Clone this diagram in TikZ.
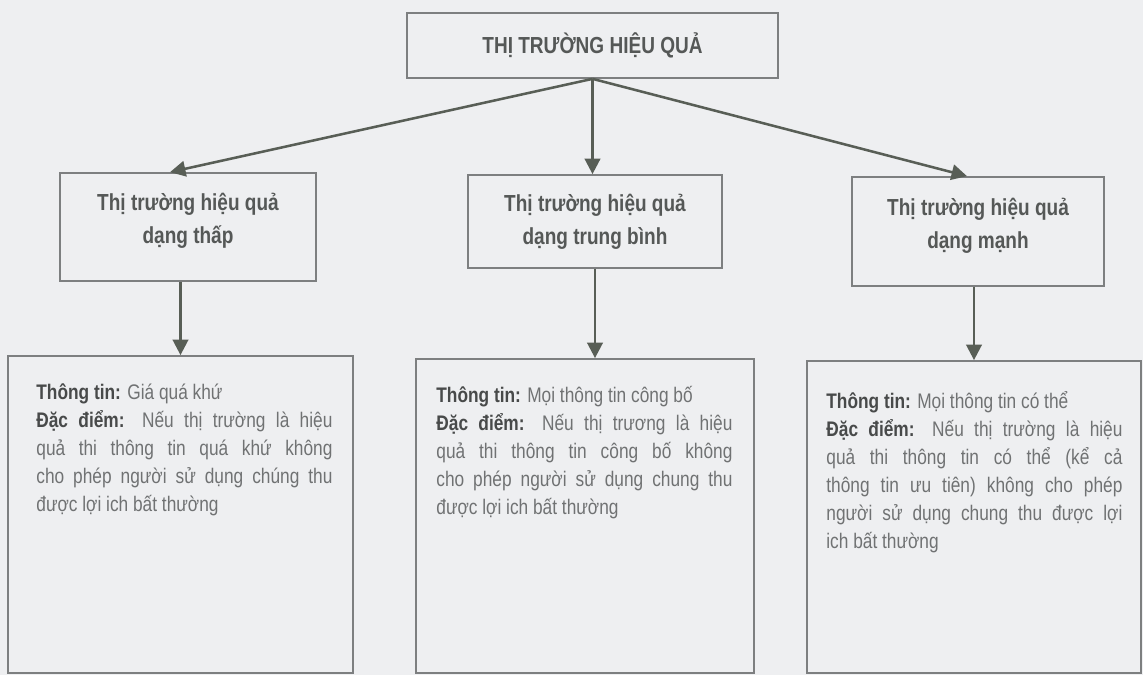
\documentclass[tikz,border=0pt]{standalone}
\usepackage{fontspec}
\setmainfont{Liberation Sans}
\newfontfamily\narrowfont[FakeStretch=0.82]{Liberation Sans}
\usetikzlibrary{arrows.meta}

\definecolor{paper}{RGB}{238,239,241}
\definecolor{boxline}{RGB}{125,127,128}
\definecolor{arrowcol}{RGB}{88,94,86}
\definecolor{headtext}{RGB}{85,88,87}
\definecolor{bodytext}{RGB}{112,114,115}
\definecolor{labeltext}{RGB}{72,74,74}
\newcommand\lbl[1]{\textcolor{labeltext}{\bfseries #1}}

\begin{document}
\begin{tikzpicture}[x=0.025cm, y=-0.025cm, >={Triangle[length=11pt,width=11pt]},
	box/.style={draw=boxline, line width=1.2pt, inner sep=0pt},
	head/.style={box, font=\narrowfont\bfseries\fontsize{16.5pt}{23.5pt}\selectfont, text=headtext, align=center},
	info/.style={anchor=north west, inner sep=0pt, text width=7.4cm, align=justify, text=bodytext, font=\narrowfont\fontsize{15pt}{19.9pt}\selectfont},
	arr/.style={->, draw=arrowcol, fill=arrowcol, line width=1.8pt}]
	\useasboundingbox (0,0) rectangle (1143,675);
	\fill[paper] (0,0) rectangle (1143,675);
	% levels
	\node[head, minimum width=9.275cm, minimum height=1.625cm] (market) at (592.5,45.5) {THỊ TRƯỜNG HIỆU QUẢ};
	\node[head, minimum width=6.4cm, minimum height=2.7cm, text depth=12pt] (weak) at (188,227) {Thị trường hiệu quả\\dạng thấp};
	\node[head, minimum width=6.35cm, minimum height=2.325cm] (semi) at (595,221.5) {Thị trường hiệu quả\\dạng trung bình};
	\node[head, minimum width=6.3cm, minimum height=2.725cm, text depth=12pt] (strong) at (978,231.5) {Thị trường hiệu quả\\dạng mạnh};
	% description boxes
	\node[box, minimum width=8.625cm, minimum height=7.925cm] (weakinfo) at (180.5,514.5) {};
	\node[box, minimum width=8.45cm, minimum height=7.85cm] (semiinfo) at (585,516) {};
	\node[box, minimum width=8.35cm, minimum height=7.8cm] (stronginfo) at (974,517) {};
	\node[info] (weaktext) at ([shift={(29,28)}]weakinfo.north west) {\lbl{Thông tin:} Giá quá khứ\\
		\lbl{Đặc điểm:} Nếu thị trường là hiệu\linebreak quả thi thông tin quá khứ không\linebreak cho phép người sử dụng chúng thu\linebreak được lợi ich bất thường};
	\node[info] (semitext) at ([shift={(21,28)}]semiinfo.north west) {\lbl{Thông tin:} Mọi thông tin công bố\\
		\lbl{Đặc điểm:} Nếu thị trương là hiệu\linebreak quả thi thông tin công bố không\linebreak cho phép người sử dụng chung thu\linebreak được lợi ich bất thường};
	\node[info] (strongtext) at ([shift={(20,31)}]stronginfo.north west) {\lbl{Thông tin:} Mọi thông tin có thể\\
		\lbl{Đặc điểm:} Nếu thị trường là hiệu\linebreak quả thi thông tin có thể (kể cả\linebreak thông tin ưu tiên) không cho phép\linebreak người sử dụng chung thu được lợi\linebreak ich bất thường};
	% arrows
	\draw[arr] (market.south) -- ([shift={(-18,0)}]weak.north);
	\draw[arr] (market.south) -- (market.south |- semi.north);
	\draw[arr] (market.south) -- ([shift={(-11,0)}]strong.north);
	\foreach \a/\b in {weak/weakinfo, strong/stronginfo} {\draw[arr] (\b.north |- \a.south) -- (\b.north);}
	\draw[arr] (semi.south) -- (semi.south |- semiinfo.north);
\end{tikzpicture}
\end{document}
